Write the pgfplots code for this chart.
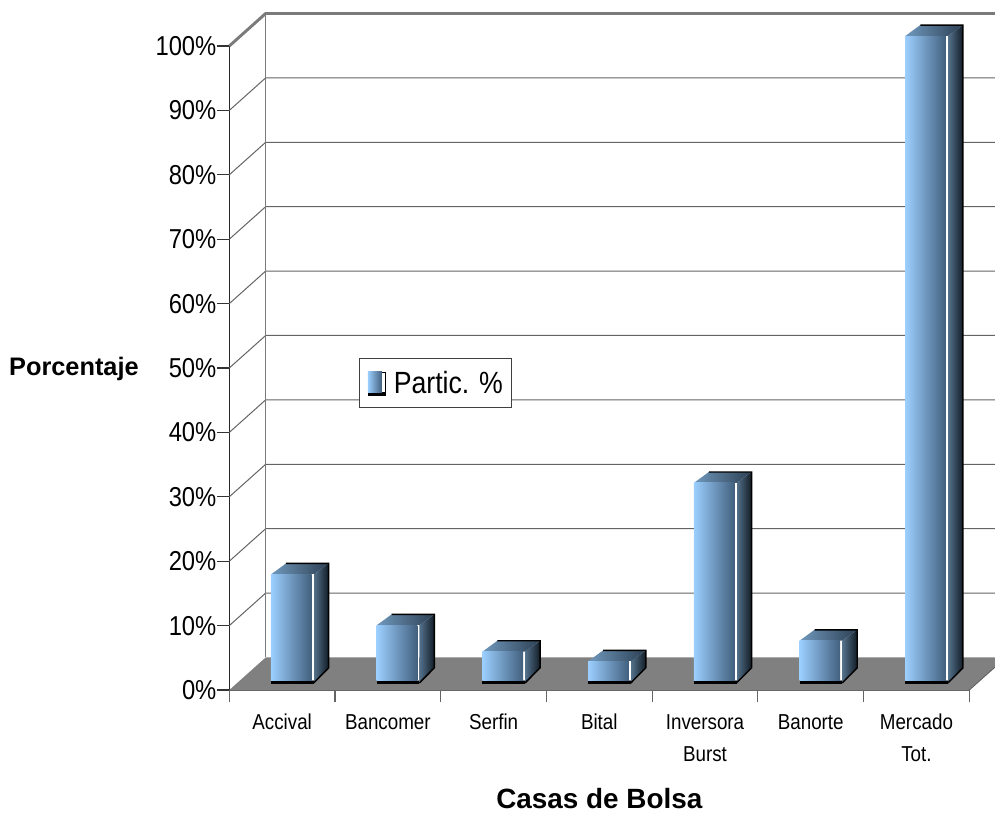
\documentclass[border=0pt]{standalone}
\usepackage{fontspec}
\setmainfont[FakeStretch=0.87]{Liberation Sans}
\newfontfamily\titulo{Liberation Sans}
\usepackage{pgfplots}
\pgfplotsset{compat=1.18}
\definecolor{frenteA}{RGB}{156,207,255}
\definecolor{frenteB}{RGB}{66,96,126}
\definecolor{topeA}{RGB}{112,152,188}
\definecolor{topeB}{RGB}{44,64,84}
\definecolor{ladoA}{RGB}{84,114,140}
\definecolor{ladoB}{RGB}{18,28,38}
\definecolor{piso}{RGB}{128,128,128}
\definecolor{rejgris}{RGB}{100,100,100}

% one bar: #1 = left edge of the category, #2 = value
\newcommand{\barra}[2]{
  \pgfmathsetmacro{\xa}{#1+0.394}
  \pgfmathsetmacro{\xb}{#1+0.779}
  \pgfmathsetmacro{\xc}{#1+0.798}
  \pgfmathsetmacro{\xd}{#1+0.536}
  \pgfmathsetmacro{\xe}{#1+0.940}
  \pgfmathsetmacro{\ya}{1.55}
  \pgfmathsetmacro{\yb}{1.55+#2}
  \pgfmathsetmacro{\yc}{1.55+#2+1.7}
  \pgfmathsetmacro{\yd}{1.55+1.9}
  \pgfmathsetmacro{\yf}{1.1}
  % side
  \addplot[left color=ladoA,right color=ladoB,draw=none,forget plot]
    coordinates {(\xc,\yf) (\xe,\yd) (\xe,\yc) (\xc,\yb)} --cycle;
  % top
  \addplot[left color=topeA,right color=topeB,draw=none,forget plot]
    coordinates {(\xa,\yb) (\xd,\yc) (\xe,\yc) (\xc,\yb)} --cycle;
  % dark edge of the side and the back of the top
  \addplot[black,line width=1.1pt,forget plot]
    coordinates {(\xc,\yf) (\xe,\yd) (\xe,\yc) (\xd,\yc)};
  % gap between front and side
  \addplot[fill=white,draw=none,forget plot]
    coordinates {(\xb,\ya) (\xc,\ya) (\xc,\yb) (\xb,\yb)} --cycle;
  % front
  \addplot[left color=frenteA,right color=frenteB,draw=none,forget plot]
    coordinates {(\xa,\ya) (\xb,\ya) (\xb,\yb) (\xa,\yb)} --cycle;
  % dark foot
  \addplot[black,line width=1.9pt,forget plot]
    coordinates {(\xa,1.2) (\xc,1.2)};
}
% one wall line: #1 = value at the front, #2 = value at the back
\newcommand{\rejilla}[2]{
  \addplot[rejgris,line width=0.75pt,forget plot]
    coordinates {(0,#1) (0.344,#2) (7.244,#2)};
}

\begin{document}
\begin{tikzpicture}
\useasboundingbox (-171.98pt,-93pt) rectangle (574.27pt,517.5pt);
\begin{axis}[
  scale only axis,
  width=555pt, height=483pt,
  xmin=0, xmax=7, ymin=0, ymax=100,
  clip=false,
  axis x line*=bottom, axis y line*=left,
  x axis line style={-,draw=rejgris,line width=1pt},
  y axis line style={-,draw=black!85,line width=0.9pt},
  xtick={0.5,1.5,...,6.5},
  xticklabels={\strut Accival,\strut Bancomer,\strut Serfin,\strut Bital,{\strut Inversora\\\strut Burst},\strut Banorte,{\strut Mercado\\\strut Tot.}},
  minor xtick={0,1,...,7},
  major x tick style={draw=none},
  minor x tick style={draw=rejgris,line width=0.8pt},
  minor tick length=9pt,
  major tick length=9pt,
  tick align=outside,
  ytick={0,10,...,100},
  yticklabels={0\%,10\%,20\%,30\%,40\%,50\%,60\%,70\%,80\%,90\%,100\%},
  y tick style={draw=black!80,line width=0.8pt},
  yticklabel style={font=\fontsize{20.5}{24}\selectfont,inner xsep=0.5pt},
  xticklabel style={font=\fontsize{16.2}{24}\selectfont,align=center,anchor=north,inner ysep=0pt,yshift=-3.3pt},
  xlabel={\titulo\bfseries Casas de Bolsa},
  ylabel={\titulo\bfseries Porcentaje},
  xlabel style={font=\fontsize{20.9}{25}\selectfont,at={(axis description cs:0.5,-0.169)},anchor=center},
  ylabel style={font=\fontsize{19}{23}\selectfont,rotate=-90,at={(axis description cs:-0.21,0.4985)},anchor=center},
  legend style={at={(axis description cs:0.2786,0.4767)},anchor=center,draw=black!75,line width=0.7pt,fill=white,
    font=\fontsize{23}{26}\selectfont,inner xsep=4.5pt,inner ysep=7.5pt,
    legend cell align=left},
]
% back wall
\rejilla{10}{15.05}
\rejilla{20}{25.05}
\rejilla{30}{35.05}
\rejilla{40}{45.05}
\rejilla{50}{55.05}
\rejilla{60}{65.05}
\rejilla{70}{75.05}
\rejilla{80}{85.05}
\rejilla{90}{95.05}
\addplot[rejgris!85,line width=2.2pt,forget plot] coordinates {(0,100) (0.344,105.05) (7.244,105.05)};
\addplot[rejgris!85,line width=1pt,forget plot] coordinates {(0.344,5.05) (0.344,105.05)};
% floor
\addplot[fill=piso,draw=none,forget plot] coordinates {(0,0) (0.344,5.05) (7.244,5.05) (7.244,3.57) (7,0)} --cycle;
\addplot[rejgris,line width=0.7pt,forget plot] coordinates {(7,0) (7.244,3.57)};
% values
\barra{0}{16.4}
\barra{1}{8.5}
\barra{2}{4.4}
\barra{3}{2.9}
\barra{4}{30.6}
\barra{5}{6.1}
\barra{6}{100}
\addlegendimage{legend image code/.code={
  \path[draw=none] (0cm,0cm) -- (0.68cm,0cm);
  \draw[black,line width=0.6pt] (0.396cm,-0.24cm) rectangle (0.536cm,0.27cm);
  \fill[black,draw=none] (0.066cm,-0.33cm) rectangle (0.536cm,-0.24cm);
  \shade[left color=frenteA,right color=frenteB,draw=none] (0.066cm,-0.24cm) rectangle (0.436cm,0.3cm);
}}
\addlegendentry{Partic. \%}
\end{axis}
\end{tikzpicture}
\end{document}
